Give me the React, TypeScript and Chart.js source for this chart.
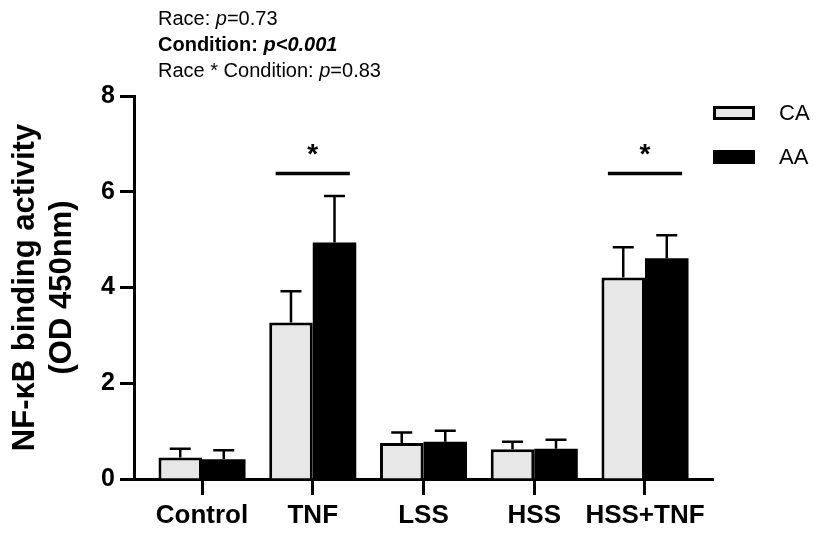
import { useEffect, useRef } from 'react';
import { Chart, registerables } from 'chart.js';

Chart.register(...registerables);

const categories = ['Control', 'TNF', 'LSS', 'HSS', 'HSS+TNF'];
const seriesNames = ['CA', 'AA'];
const caMeans = [0.45, 3.27, 0.75, 0.62, 4.21];
const caErrors = [0.18, 0.65, 0.22, 0.16, 0.63];
const aaMeans = [0.41, 4.94, 0.78, 0.63, 4.61];
const aaErrors = [0.19, 0.97, 0.23, 0.19, 0.48];
const yTickValues = [0, 2, 4, 6, 8];
const sigCategories = [1, 4];
const sigLevel = 6.38;
const yTitle = ['NF-\u03BAB binding activity', '(OD 450nm)'];
const statLines = [
  [
    { t: 'Race: ', b: false, i: false },
    { t: 'p', b: false, i: true },
    { t: '=0.73', b: false, i: false },
  ],
  [
    { t: 'Condition: ', b: true, i: false },
    { t: 'p<0.001', b: true, i: true },
  ],
  [
    { t: 'Race * Condition: ', b: false, i: false },
    { t: 'p', b: false, i: true },
    { t: '=0.83', b: false, i: false },
  ],
];

const FONT = "'Liberation Sans', Arial, Helvetica, sans-serif";
const CA_FILL = '#e7e7e7';

export default function App() {
  const ref = useRef<HTMLCanvasElement>(null);

  useEffect(() => {
    const canvas = ref.current;
    if (!canvas) return;

    const annotations = {
      id: 'annotations',
      afterDatasetsDraw(chart: any) {
        const ctx = chart.ctx;
        const xs = chart.scales.x;
        const ys = chart.scales.y;
        ctx.save();
        ctx.strokeStyle = '#000';
        ctx.fillStyle = '#000';
        // error bars
        [caErrors, aaErrors].forEach((errs, di) => {
          const means = di === 0 ? caMeans : aaMeans;
          const meta = chart.getDatasetMeta(di);
          meta.data.forEach((bar: any, i: number) => {
            const top = ys.getPixelForValue(means[i]);
            const end = ys.getPixelForValue(means[i] + errs[i]);
            ctx.lineWidth = 2.5;
            ctx.beginPath();
            ctx.moveTo(bar.x, top);
            ctx.lineTo(bar.x, end);
            ctx.moveTo(bar.x - 10.5, end);
            ctx.lineTo(bar.x + 10.5, end);
            ctx.stroke();
          });
        });
        // significance
        const catW = xs.getPixelForValue(1) - xs.getPixelForValue(0);
        const sy = ys.getPixelForValue(sigLevel);
        sigCategories.forEach((c) => {
          const cx = xs.getPixelForValue(c);
          ctx.lineWidth = 3.5;
          ctx.beginPath();
          ctx.moveTo(cx - catW * 0.335, sy);
          ctx.lineTo(cx + catW * 0.335, sy);
          ctx.stroke();
          ctx.font = `bold 28px ${FONT}`;
          ctx.textAlign = 'center';
          ctx.textBaseline = 'alphabetic';
          ctx.fillText('*', cx, sy - 11);
        });
        ctx.restore();
      },
      afterDraw(chart: any) {
        const ctx = chart.ctx;
        const area = chart.chartArea;
        ctx.save();
        ctx.fillStyle = '#000';
        ctx.textBaseline = 'alphabetic';
        ctx.textAlign = 'left';
        // stats text
        statLines.forEach((line, li) => {
          let x = area.left + 24;
          const y = area.top - 71 + li * 26;
          line.forEach((seg) => {
            ctx.font = `${seg.i ? 'italic ' : ''}${seg.b ? 'bold ' : ''}20px ${FONT}`;
            ctx.fillText(seg.t, x, y);
            x += ctx.measureText(seg.t).width;
          });
        });
        // legend
        const lx = area.right;
        const rows = [area.top + 17, area.top + 61];
        seriesNames.forEach((name, i) => {
          const cy = rows[i];
          if (i === 0) {
            ctx.fillStyle = CA_FILL;
            ctx.fillRect(lx + 1.5, cy - 5, 39, 10);
            ctx.strokeStyle = '#000';
            ctx.lineWidth = 3;
            ctx.strokeRect(lx + 1.5, cy - 5.5, 39, 11);
          } else {
            ctx.fillStyle = '#000';
            ctx.fillRect(lx, cy - 7, 42, 14);
          }
          ctx.fillStyle = '#000';
          ctx.font = `22px ${FONT}`;
          ctx.textBaseline = 'middle';
          ctx.fillText(name, lx + 66, cy + 1);
        });
        ctx.restore();
      },
    };

    const chart = new Chart(canvas, {
      type: 'bar',
      data: {
        labels: categories,
        datasets: [
          {
            label: seriesNames[0],
            data: caMeans,
            backgroundColor: CA_FILL,
            borderColor: '#000',
            borderWidth: 3,
            categoryPercentage: 0.786,
            barPercentage: 1,
          },
          {
            label: seriesNames[1],
            data: aaMeans,
            backgroundColor: '#000',
            borderColor: '#000',
            borderWidth: 0,
            categoryPercentage: 0.786,
            barPercentage: 1,
          },
        ],
      },
      options: {
        responsive: false,
        animation: false,
        events: [],
        devicePixelRatio: 1,
        layout: { padding: { left: 0, top: 96, right: 105, bottom: 0 } },
        plugins: {
          legend: { display: false },
          tooltip: { enabled: false },
          title: { display: false },
        },
        scales: {
          x: {
            type: 'category',
            offset: true,
            afterBuildTicks: (scale: any) => {
              scale._startValue = -0.614;
              scale._valueRange = 5.228;
            },
            afterFit: (scale: any) => {
              scale.height = 54;
            },
            grid: {
              display: true,
              drawOnChartArea: false,
              drawTicks: true,
              offset: false,
              tickLength: 16,
              tickWidth: 3,
              tickColor: '#000',
            },
            border: { display: true, color: '#000', width: 3 },
            ticks: {
              color: '#000',
              font: { family: FONT, size: 26, weight: 'bold' },
              padding: 5,
              autoSkip: false,
              maxRotation: 0,
            },
          },
          y: {
            min: 0,
            max: 8,
            afterBuildTicks: (scale: any) => {
              scale.ticks = yTickValues.map((v) => ({ value: v }));
            },
            afterFit: (scale: any) => {
              scale.width = 134;
            },
            grid: {
              display: true,
              drawOnChartArea: false,
              drawTicks: true,
              tickLength: 14,
              tickWidth: 3,
              tickColor: '#000',
            },
            border: { display: true, color: '#000', width: 3 },
            ticks: {
              color: '#000',
              font: { family: FONT, size: 25, weight: 'bold' },
              padding: 5,
            },
            title: {
              display: true,
              text: yTitle,
              color: '#000',
              font: { family: FONT, size: 31, weight: 'bold', lineHeight: 1.2 },
              padding: { top: 7, bottom: 0 },
            },
          },
        },
      },
      plugins: [annotations],
    } as any);

    return () => chart.destroy();
  }, []);

  return (
    <div style={{ position: 'fixed', left: 0, top: 0, width: 818, height: 533, background: '#fff' }}>
      <canvas ref={ref} width={818} height={533} style={{ display: 'block' }} />
    </div>
  );
}
